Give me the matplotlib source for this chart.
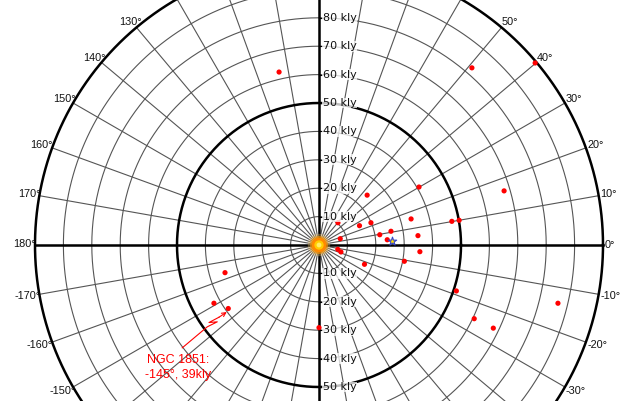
import numpy as np
import matplotlib.pyplot as plt

# === DATA: globular clusters (galactic longitude in deg, distance from centre in kly) ===
cluster_lon = [103, 49.2, 40.1, 30.1, 46, 16.3, 25.5, 23.2, 15.8, 10.1,
               10.0, 16.5, 9.6, 10.8, 5.4, 4.4, -13, -17.6, -3.8, -10.8,
               -23, -18.5, -13.7, -25.4, -25.5, -90, 49.6, -163.6, -151, -145]
cluster_dist = [62.5, 82.4, 99.5, 40.7, 24.4, 67.9, 15.8, 19.9, 33.7, 47.5,
                50.1, 7.8, 21.7, 25.8, 35.0, 24.1, 6.8, 8.1, 35.6, 30.6,
                17.4, 51.0, 86.6, 60.5, 68.0, 29.1, 10.3, 34.5, 42.3, 39.0]

sun_lon, sun_dist = 2.9, 25.7
ngc1851_lon, ngc1851_dist = -145, 39

ring_radii = list(range(10, 101, 10))
thick_rings = [50, 100]
spoke_angles = list(range(0, 360, 10))
angle_labels = list(range(-170, 181, 10))

PX = 2.84          # pixels per kly
CX, CY = 319, 245  # centre in pixels


def to_xy(lon, dist):
    a = np.radians(np.asarray(lon, dtype=float))
    d = np.asarray(dist, dtype=float)
    return d * np.cos(a), d * np.sin(a)


fig = plt.figure(figsize=(6.21, 4.01), dpi=100)
ax = fig.add_axes([0, 0, 1, 1])
ax.set_xlim(-CX / PX, (621 - CX) / PX)
ax.set_ylim(-(401 - CY) / PX, CY / PX)
ax.axis('off')

grid_col = '#555555'
t = np.linspace(0, 2 * np.pi, 721)

# rings
for r in ring_radii:
    if r in thick_rings:
        ax.plot(r * np.cos(t), r * np.sin(t), color='black', lw=1.8, zorder=2)
    else:
        ax.plot(r * np.cos(t), r * np.sin(t), color=grid_col, lw=0.8, zorder=1)

# spokes
for a in spoke_angles:
    ex, ey = to_xy(a, 100)
    ax.plot([0, ex], [0, ey], color=grid_col, lw=0.8, zorder=1)

# main axes
ax.plot([-100, 100], [0, 0], color='black', lw=1.8, zorder=2)
ax.axvline(0, color='black', lw=1.8, zorder=2)

# longitude labels around the outer ring
for a in angle_labels:
    lx, ly = to_xy(a, 100)
    s, c = np.sin(np.radians(a)), np.cos(np.radians(a))
    dy = 6 * s + np.sign(s)
    if c > 0.01:
        ha, dx = 'left', 1.5 * c ** 4
    elif c < -0.01:
        ha, dx = 'right', 1 + 10 * max(0.0, abs(s) - 0.35)
    else:
        ha, dx = 'center', 0
    ax.annotate(f"{a}°", xy=(lx, ly), xytext=(dx, dy), textcoords='offset pixels',
                ha=ha, va='center', fontsize=7.8, family='Liberation Sans',
                color='#111111', zorder=5)

# distance labels up and down the vertical axis
for r in ring_radii[:-1]:
    for sgn in (1, -1):
        ax.text(1.3, sgn * r, f"{r} kly", ha='left', va='center', fontsize=8,
                color='#111111', zorder=6,
                bbox=dict(facecolor='white', edgecolor='none', alpha=0.75, pad=0.3))
        ax.plot([0, 1.2], [sgn * r, sgn * r], color='black', lw=0.8, zorder=3)

# clusters
x, y = to_xy(cluster_lon, cluster_dist)
ax.scatter(x, y, s=14, color='red', edgecolors='none', zorder=4)

# the Sun
sx, sy = to_xy(sun_lon, sun_dist)
ax.scatter([sx], [sy], s=40, marker='*', color='#ffdd00', edgecolors='#3344cc',
           linewidths=0.8, zorder=5)

# glowing galactic centre
for size, col, alpha in [(260, '#ffcc66', 0.35), (170, '#ff9900', 0.6),
                         (110, '#ff8800', 1.0), (45, '#ffcc00', 1.0), (12, '#ffee66', 1.0)]:
    ax.scatter([0], [0], s=size, color=col, alpha=alpha, edgecolors='none', zorder=7)

# NGC 1851 callout with a broken arrow
nx, ny = to_xy(ngc1851_lon, ngc1851_dist)
path_px = [(-46, -39.3), (-21, -18.3), (-11, -13.3), (-19.3, -14), (-9.3, -8.7)]
px_ = [nx + dx / PX for dx, dy in path_px]
py_ = [ny + dy / PX for dx, dy in path_px]
ax.plot(px_, py_, color='red', lw=0.8, zorder=5)
ax.annotate('', xy=(nx - 1.5 / PX, ny - 3.5 / PX), xytext=(px_[-1], py_[-1]),
            arrowprops=dict(arrowstyle='->', color='red', lw=0.8,
                            shrinkA=0, shrinkB=0, mutation_scale=7), zorder=5)
ax.text(nx - 50 / PX, ny - 59 / PX, f"NGC 1851:\n{ngc1851_lon}°, {ngc1851_dist}kly",
        ha='center', va='center', fontsize=9, family='Liberation Sans', color='red',
        linespacing=1.35, zorder=6)

fig.savefig('out.png', dpi=100)
